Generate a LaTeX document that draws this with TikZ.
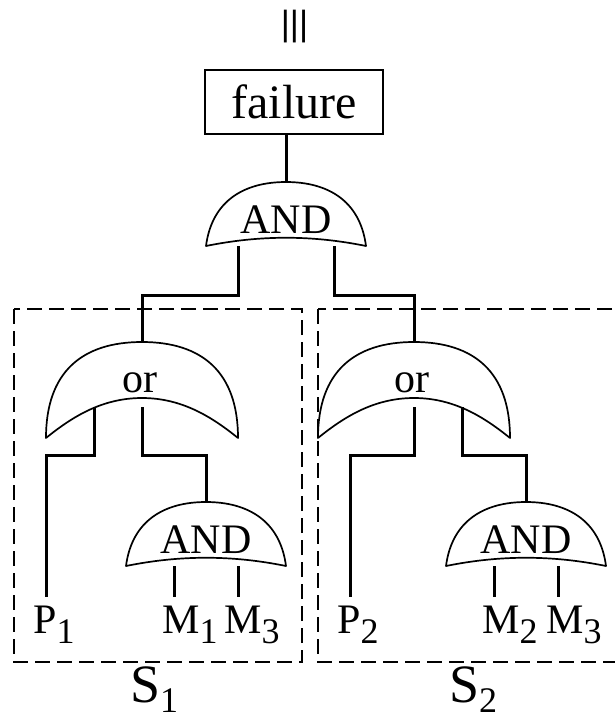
\documentclass[tikz,border=0pt]{standalone}
\usepackage{fontspec}
\setmainfont{Liberation Serif}
\newfontfamily\barfont{Liberation Sans}
\newcommand\subtxt[2][10pt]{\raisebox{-#1}{\fontsize{36}{36}\selectfont #2}}
\tikzset{
  gateline/.style={line width=1.7pt, line join=round},
  wire/.style={line width=3pt},
  subsys/.style={line width=2.5pt, dash pattern=on 15pt off 7pt},
  lab/.style={font=\fontsize{42}{42}\selectfont, inner xsep=0pt, inner ysep=7pt, anchor=base west},
  biglab/.style={font=\fontsize{54}{54}\selectfont, inner sep=0pt, anchor=base west},
  gatetext/.style={font=\fontsize{42}{42}\selectfont, inner sep=0pt, anchor=base},
  andgate/.pic={
    \draw[gateline, fill=white] (-80,64) .. controls (-74,18) and (-41,0) .. (0,0)
      .. controls (41,0) and (74,18) .. (80,64)
      .. controls (26,53) and (-26,53) .. (-80,64) -- cycle;
    \node[gatetext] (-txt) at (0,51) {AND};
    \coordinate (-top) at (0,0);
    \coordinate (-l) at (-#1,64);
    \coordinate (-r) at (#1,64);
  },
  orgate/.pic={
    \draw[gateline, fill=white] (-96,96) .. controls (-96,30) and (-60,0) .. (0,0)
      .. controls (60,0) and (96,30) .. (96,96)
      .. controls (70,75) and (40,56) .. (0,56)
      .. controls (-40,56) and (-70,75) .. (-96,96) -- cycle;
    \node[gatetext] (-txt) at (-2,50) {or};
    \coordinate (-top) at (0,0);
    \coordinate (-l) at (-48,65);
    \coordinate (-c) at (0,65);
    \coordinate (-r) at (48,65);
  }
}
\begin{document}
\begin{tikzpicture}[x=1pt, y=-1pt]
\useasboundingbox (0,0) rectangle (615,720);

% subsystem boxes
\draw[subsys] (14,309) rectangle (302,662);
\draw[subsys] (318,309) rectangle (640,662);

% top
\node[font=\barfont\fontsize{35}{35}\selectfont, inner sep=0pt, anchor=base] (eq) at (294.5,35) {|||};
\node[draw, line width=2.2pt, minimum width=178pt, minimum height=64pt, inner sep=0pt,
      font=\fontsize{48}{48}\selectfont] (failure) at (294,102) {failure};

% gates
\pic (g0) at (286,182) {andgate=48};
\pic (o1) at (142,342) {orgate};
\pic (o2) at (414,342) {orgate};
\pic (a1) at (206,502) {andgate=32};
\pic (a2) at (526,502) {andgate=32};

% labels
\node[lab] (p1) at (33,633) {P\subtxt{1}};
\node[lab] (m1) at (162,633) {M\subtxt{1}};
\node[lab] (m3a) at (224,633) {M\subtxt{3}};
\node[lab] (p2) at (337,633) {P\subtxt{2}};
\node[lab] (m2) at (482,633) {M\subtxt{2}};
\node[lab] (m3b) at (546,633) {M\subtxt{3}};
\node[biglab] (s1) at (130,702) {S\subtxt[10pt]{1}};
\node[biglab] (s2) at (449,702) {S\subtxt[10pt]{2}};

% label entry points
\coordinate (p1in) at (46,597);
\coordinate (m1in) at (174,597);
\coordinate (m3ain) at (238,597);
\coordinate (p2in) at (350,597);
\coordinate (m2in) at (494,597);
\coordinate (m3bin) at (558,597);

% connectors
\draw[wire] (failure.south -| g0-top) -- (g0-top);
\draw[wire] (g0-l) -- ++(0,49) -| (o1-top);
\draw[wire] (g0-r) -- ++(0,49) -| (o2-top);
\draw[wire] (o1-l) -- ++(0,48) -| (p1in);
\draw[wire] (o1-c) -- ++(0,48) -| (a1-top);
\draw[wire] (o2-c) -- ++(0,48) -| (p2in);
\draw[wire] (o2-r) -- ++(0,48) -| (a2-top);
\draw[wire] (a1-l) -- (m1in);
\draw[wire] (a1-r) -- (m3ain);
\draw[wire] (a2-l) -- (m2in);
\draw[wire] (a2-r) -- (m3bin);
\end{tikzpicture}
\end{document}
